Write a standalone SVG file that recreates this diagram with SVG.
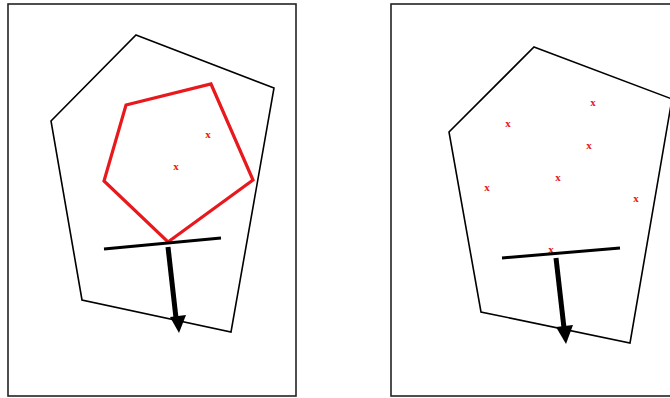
<svg xmlns="http://www.w3.org/2000/svg" width="670" height="398" viewBox="0 0 670 398">
<style>
.frame{fill:none;stroke:#222;stroke-width:1.6}
.poly{fill:none;stroke:#000;stroke-width:1.6;stroke-linejoin:miter}
.red{fill:none;stroke:#e8181c;stroke-width:3.2;stroke-linejoin:miter}
.bar{stroke:#000;stroke-width:3;fill:none}
.shaft{stroke:#000;stroke-width:5;fill:none}
.head{fill:#000}
.x{font-family:"Liberation Serif",serif;font-size:11px;font-weight:bold;fill:#e8181c;text-anchor:middle}
</style>
<rect width="670" height="398" fill="#fff"/>
<g id="panel-left">
  <rect class="frame" x="8" y="4" width="288" height="392"/>
  <g id="outer-left"><polygon class="poly" points="136,35 274,88 231,332 82,300 51,121"/></g>
  <g id="pentagon"><polygon class="red" points="126,105 211,84 253,180 168,242 104,181"/></g>
  <g id="marks-left">
    <text class="x" x="208" y="138">x</text>
    <text class="x" x="176" y="170">x</text>
  </g>
  <g id="connectors-left">
    <line class="bar" x1="104" y1="249" x2="221" y2="238"/>
    <line class="shaft" x1="168" y1="247" x2="176" y2="318"/>
    <polygon class="head" points="170,317 186,315 179,333"/>
  </g>
</g>
<g id="panel-right">
  <rect class="frame" x="391" y="4" width="290" height="392"/>
  <g id="outer-right"><polygon class="poly" points="534,47 672,99 630,343 481,312 449,132"/></g>
  <g id="marks-right">
    <text class="x" x="593" y="106">x</text>
    <text class="x" x="508" y="127">x</text>
    <text class="x" x="589" y="149">x</text>
    <text class="x" x="558" y="181">x</text>
    <text class="x" x="487" y="191">x</text>
    <text class="x" x="636" y="202">x</text>
    <text class="x" x="551" y="253">x</text>
  </g>
  <g id="connectors-right">
    <line class="bar" x1="502" y1="258" x2="620" y2="248"/>
    <line class="shaft" x1="556" y1="258" x2="564" y2="328"/>
    <polygon class="head" points="556,327 573,325 566,344"/>
  </g>
</g>
</svg>
